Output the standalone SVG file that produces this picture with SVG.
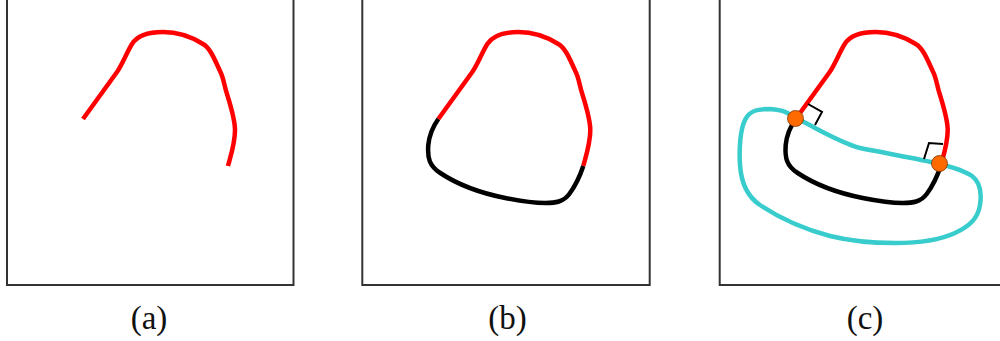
<svg xmlns="http://www.w3.org/2000/svg" width="1000" height="341" viewBox="0 0 1000 341">
<style>
.frame{fill:none;stroke:#333;stroke-width:2}
.red{fill:none;stroke:#ff0000;stroke-width:4.5;stroke-linecap:butt;stroke-linejoin:round}
.blk{fill:none;stroke:#000;stroke-width:4.5;stroke-linecap:butt;stroke-linejoin:round}
.cyan{fill:none;stroke:#38cccc;stroke-width:4.5;stroke-linejoin:round}
.mark{fill:none;stroke:#000;stroke-width:2}
.dot{fill:#ff6a00;stroke:#7a3300;stroke-width:0.8}
.lbl{font-family:"Liberation Serif","DejaVu Serif",serif;font-size:33px;fill:#111;text-anchor:middle}
</style>
<defs>
<path id="redc" d="M83,119 L117,72 C122,65 127,52 132,44 C137,36 148,32 163,32 C178,32 192,37 203,44 C210,48 214,58 220,71 C224,79 224,85 227,94 C232,110 235,120 235,130 C235,143 231,155 228,166"/>
<path id="blkc" d="M83,119 C78,126 74,135 73,145 C72,158 74,166 85,173 C100,183 120,192 150,198 C170,202 180,203 190,203 C200,203 208,202 214,194 C220,186 225,175 228,166"/>
</defs>
<rect width="1000" height="341" fill="#fff"/>
<g id="panel-a">
<rect class="frame" x="7" y="-10" width="286.5" height="295"/>
<use href="#redc" class="red"/>
<text class="lbl" x="149" y="329">(a)</text>
</g>
<g id="panel-b">
<rect class="frame" x="362.3" y="-10" width="287.4" height="295"/>
<g transform="translate(355.3,0)">
<use href="#redc" class="red"/>
<use href="#blkc" class="blk"/>
</g>
<text class="lbl" x="507.5" y="329">(b)</text>
</g>
<g id="panel-c">
<rect class="frame" x="719.7" y="-10" width="287" height="295"/>
<path class="cyan" d="M796,118 C790,114 785,110 770,109 C758,109 750,110 745,120 C740,130 739,150 740,165 C741,180 745,195 760,205 C775,215 800,228 830,236 C850,241 870,243 895,243 C920,243 940,240 955,233 C970,226 978,218 980,205 C982,192 980,182 972,176 C965,171 955,168 940,164 C920,159 890,154 860,148 C845,144 830,136 815,128 C808,124 802,121 796,118 Z"/>
<g transform="translate(712.7,0)">
<use href="#redc" class="red"/>
<use href="#blkc" class="blk"/>
</g>
<polyline class="mark" points="808,104 822,112 815,125"/>
<polyline class="mark" points="924,159 929,143 943,144"/>
<circle class="dot" cx="795.5" cy="118.5" r="8"/>
<circle class="dot" cx="939.5" cy="163.5" r="8"/>
<text class="lbl" x="865" y="329">(c)</text>
</g>
</svg>
